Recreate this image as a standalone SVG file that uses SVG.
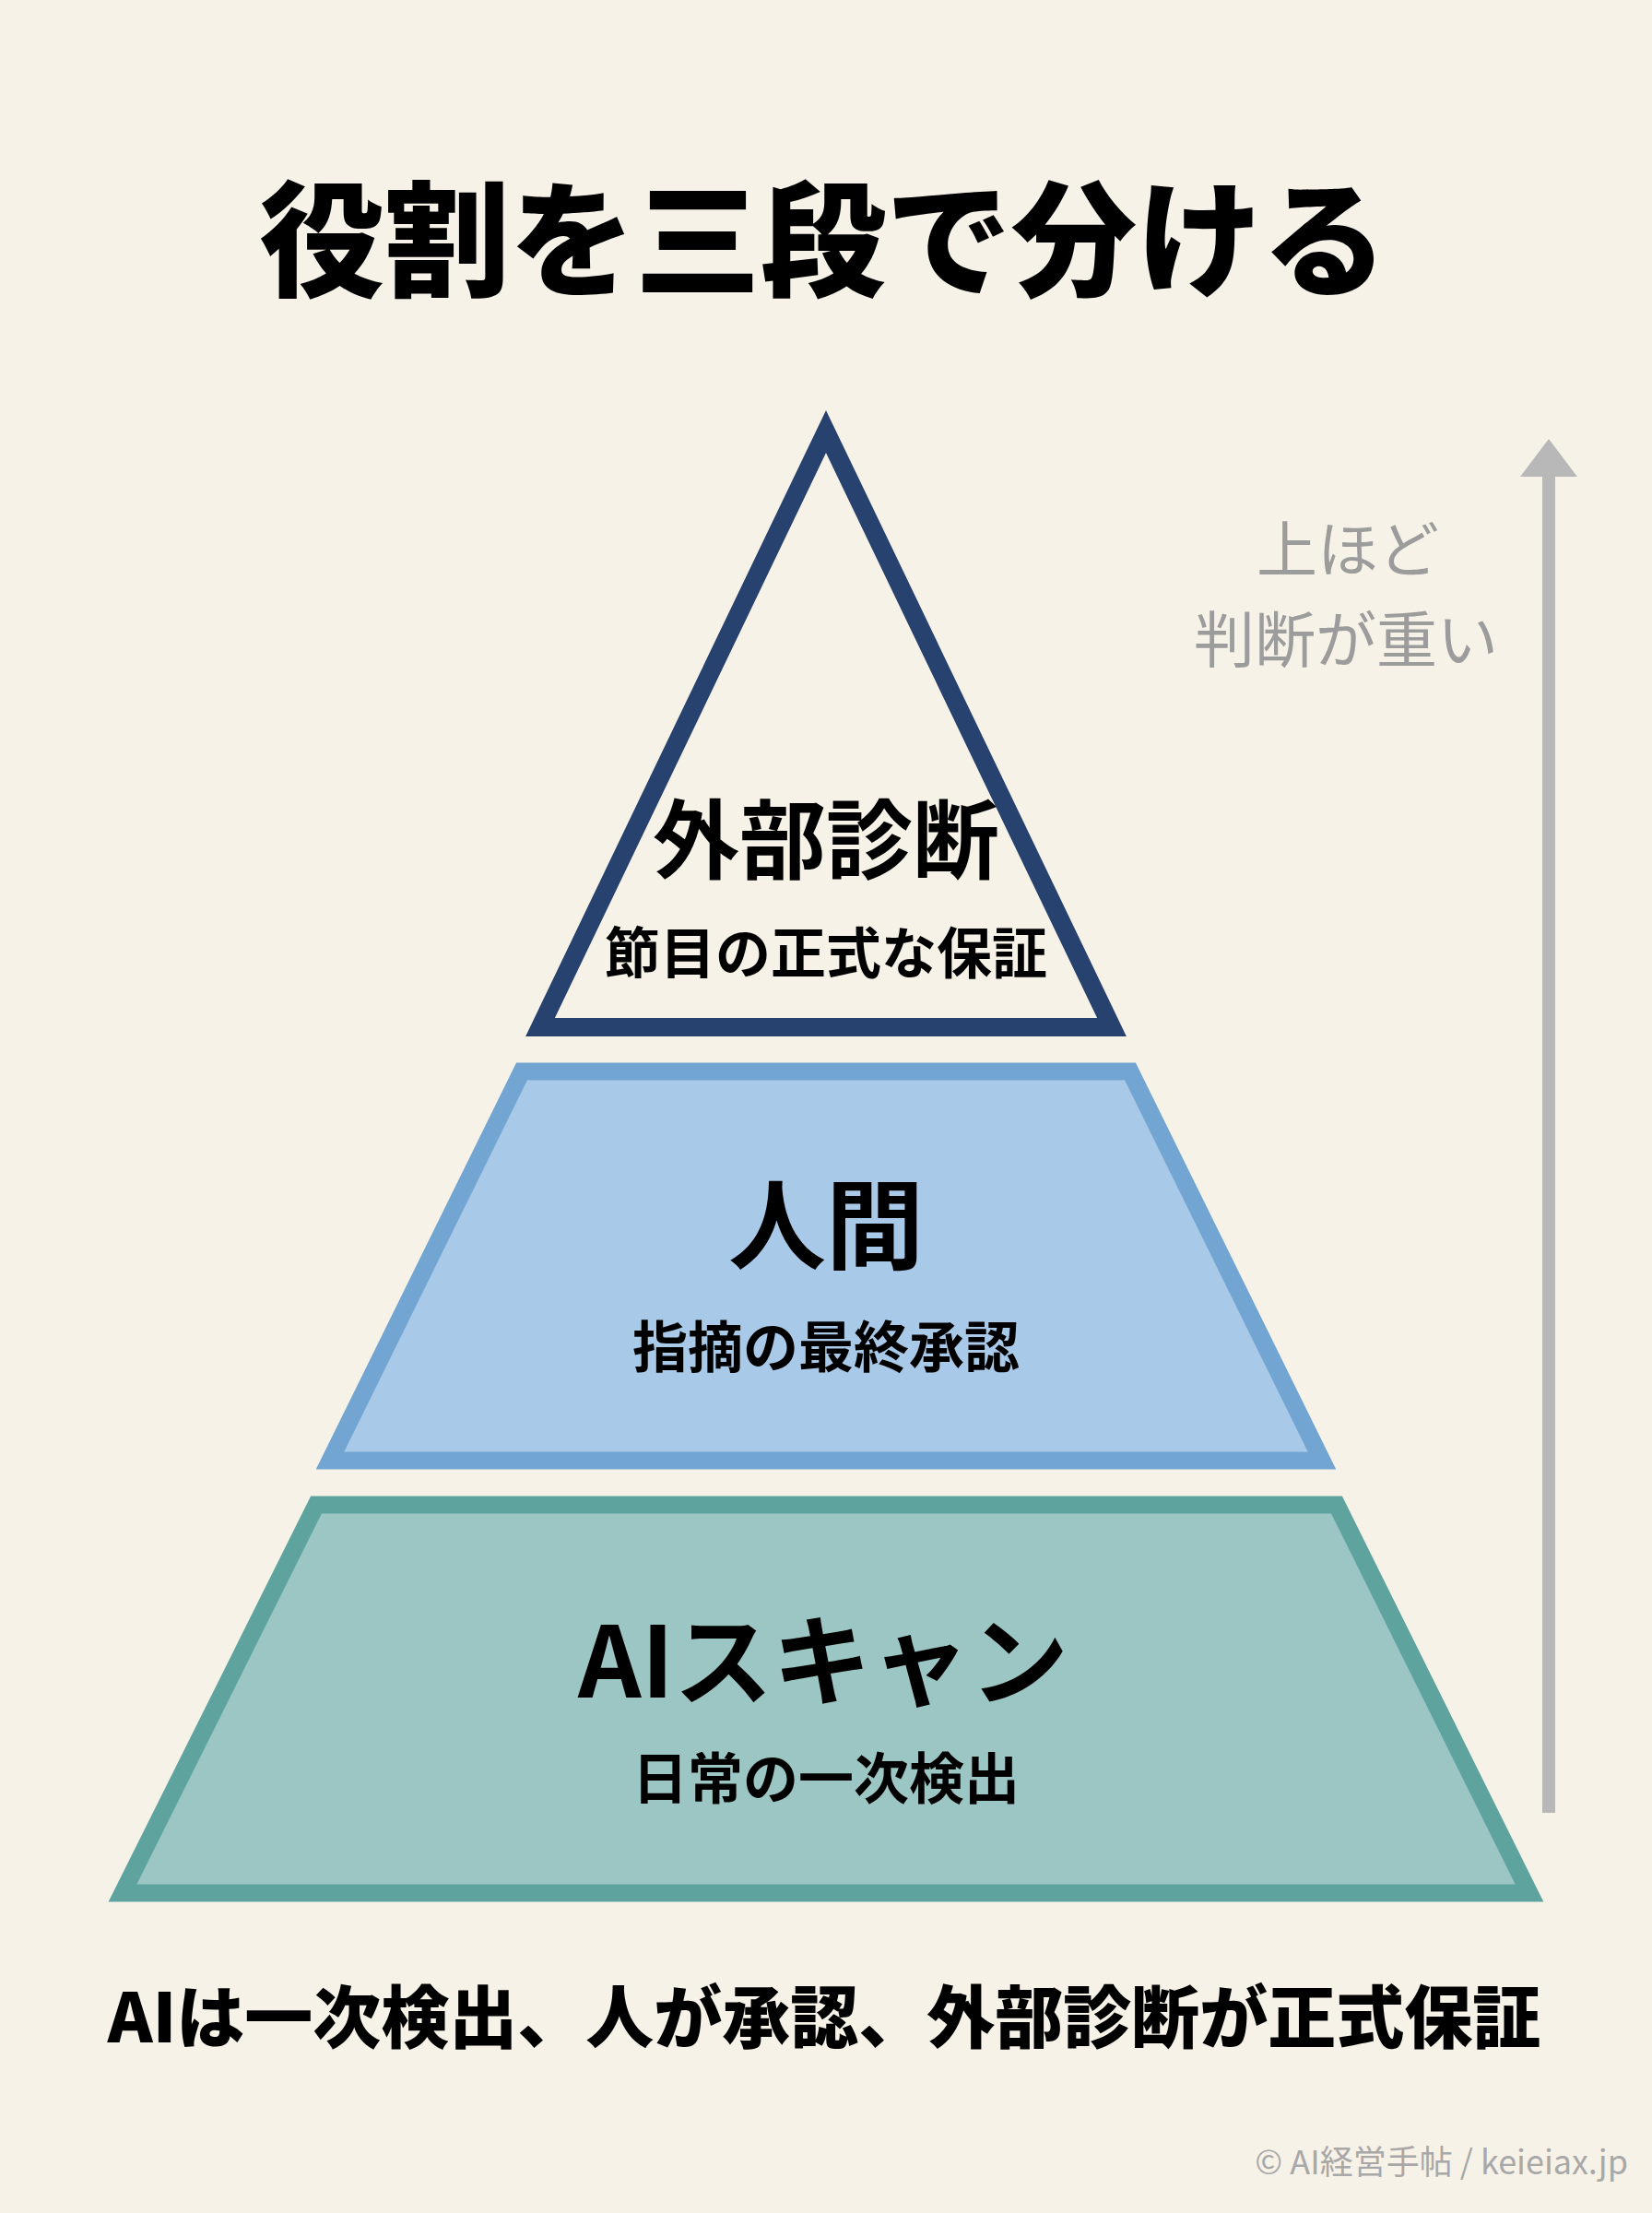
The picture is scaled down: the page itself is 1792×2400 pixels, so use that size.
<svg xmlns="http://www.w3.org/2000/svg" width="1792" height="2400" viewBox="0 0 1792 2400">
<style>
.jp{font-family:"Noto Sans CJK JP","Noto Sans",sans-serif;text-anchor:middle}
.b{font-weight:700;fill:#000}
.h{font-weight:900;fill:#000}
.g{font-weight:400;fill:#9c9c9c}
</style>
<rect width="1792" height="2400" fill="#f7f2e7"/>
<text class="jp h" x="893" y="311" font-size="136">役割を三段で分ける</text>
<g id="top">
<polygon points="896,468 586,1114 1206,1114" fill="#f7f2e7" stroke="#27426e" stroke-width="20"/>
<text class="jp b" x="896" y="946" font-size="94">外部診断</text>
<text class="jp b" x="896" y="1056" font-size="60">節目の正式な保証</text>
</g>
<g id="middle">
<polygon points="566,1162 1226,1162 1434,1584 358,1584" fill="#a9c9e8" stroke="#72a5d2" stroke-width="19"/>
<text class="jp b" x="896" y="1368" font-size="106">人間</text>
<text class="jp b" x="896" y="1483" font-size="60">指摘の最終承認</text>
</g>
<g id="bottom">
<polygon points="343,1632 1450,1632 1659,2053 133,2053" fill="#9bc6c3" stroke="#5fa39f" stroke-width="19"/>
<text class="jp b" x="893" y="1841" font-size="107">AIスキャン</text>
<text class="jp b" x="896" y="1951" font-size="60">日常の一次検出</text>
</g>
<g id="connectors">
<line x1="1680" y1="1966" x2="1680" y2="512" stroke="#b8b8b8" stroke-width="14"/>
<polygon points="1680,476 1711,517 1649,517" fill="#b8b8b8"/>
</g>
<g id="label">
<text class="jp g" x="1462" y="620" font-size="66">上ほど</text>
<text class="jp g" x="1460" y="718" font-size="66">判断が重い</text>
</g>
<text class="jp h" x="894" y="2215" font-size="74">AIは一次検出、人が承認、外部診断が正式保証</text>
<text x="1766" y="2358" font-size="36" font-family="'Noto Sans CJK JP','Noto Sans',sans-serif" fill="#a8a8a8" text-anchor="end">© AI経営手帖 / keieiax.jp</text>
</svg>
